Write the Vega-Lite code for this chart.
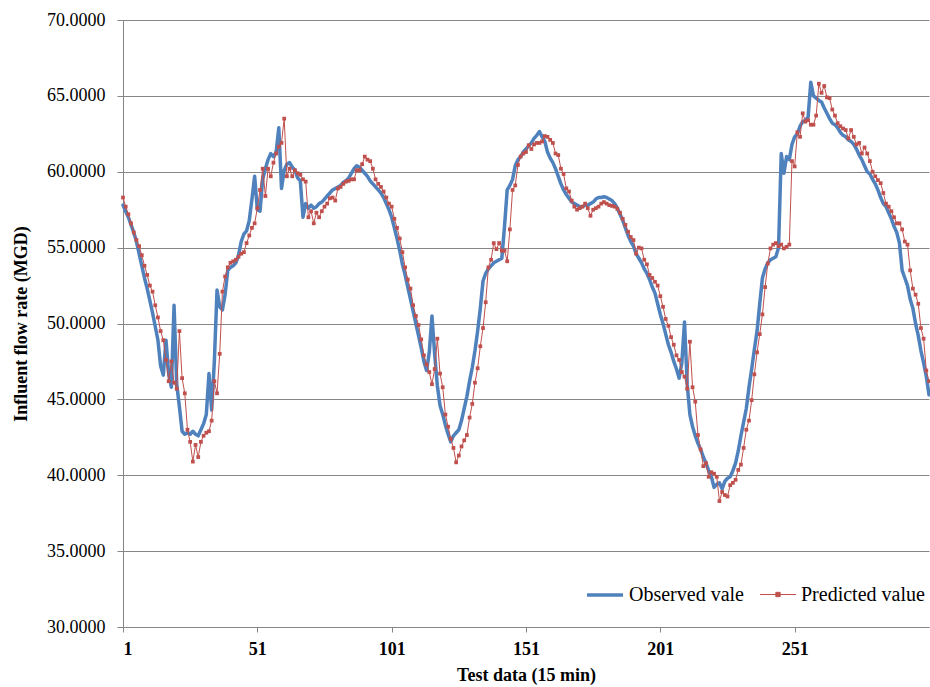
{
 "$schema": "https://vega.github.io/schema/vega-lite/v6.json",
 "width": 806, "height": 607,
 "autosize": {"type": "none"},
 "padding": {"left": 123, "top": 20, "right": 1, "bottom": 60},
 "background": "white",
 "config": {"view": {"stroke": null}, "font": "Liberation Serif"},
 "data": {"values": [
{"i":1,"o":57.8,"p":58.3},{"i":2,"o":57.4,"p":57.7},{"i":3,"o":57.0,"p":57.2},{"i":4,"o":56.5,"p":56.6},{"i":5,"o":56.0,"p":56.0},
{"i":6,"o":55.4,"p":55.5},{"i":7,"o":54.6,"p":55.1},{"i":8,"o":53.8,"p":54.5},{"i":9,"o":53.0,"p":53.8},{"i":10,"o":52.3,"p":53.2},
{"i":11,"o":51.5,"p":52.5},{"i":12,"o":50.7,"p":52.1},{"i":13,"o":49.8,"p":51.2},{"i":14,"o":48.9,"p":50.4},{"i":15,"o":47.2,"p":49.5},
{"i":16,"o":46.6,"p":48.9},{"i":17,"o":48.9,"p":47.6},{"i":18,"o":46.7,"p":46.2},{"i":19,"o":45.8,"p":47.5},{"i":20,"o":51.2,"p":46.1},
{"i":21,"o":46.0,"p":45.7},{"i":22,"o":44.5,"p":49.5},{"i":23,"o":42.9,"p":46.4},{"i":24,"o":42.7,"p":45.4},{"i":25,"o":42.8,"p":43.0},
{"i":26,"o":42.7,"p":42.2},{"i":27,"o":42.9,"p":40.9},{"i":28,"o":42.7,"p":42.0},{"i":29,"o":42.6,"p":41.2},{"i":30,"o":43.0,"p":42.2},
{"i":31,"o":43.4,"p":42.6},{"i":32,"o":44.0,"p":42.8},{"i":33,"o":46.7,"p":42.9},{"i":34,"o":44.3,"p":43.6},{"i":35,"o":47.5,"p":46.2},
{"i":36,"o":52.2,"p":45.4},{"i":37,"o":51.1,"p":48.0},{"i":38,"o":50.9,"p":52.1},{"i":39,"o":51.9,"p":53.1},{"i":40,"o":53.5,"p":53.7},
{"i":41,"o":53.7,"p":54.0},{"i":42,"o":53.8,"p":54.1},{"i":43,"o":54.0,"p":54.2},{"i":44,"o":54.5,"p":54.4},{"i":45,"o":55.4,"p":54.6},
{"i":46,"o":55.9,"p":54.7},{"i":47,"o":56.1,"p":55.3},{"i":48,"o":56.8,"p":55.8},{"i":49,"o":58.2,"p":56.3},{"i":50,"o":59.7,"p":56.6},
{"i":51,"o":57.5,"p":57.6},{"i":52,"o":57.4,"p":58.8},{"i":53,"o":59.5,"p":60.2},{"i":54,"o":60.2,"p":58.4},{"i":55,"o":60.8,"p":60.2},
{"i":56,"o":61.2,"p":59.7},{"i":57,"o":61.0,"p":60.6},{"i":58,"o":61.3,"p":61.2},{"i":59,"o":62.9,"p":61.65},{"i":60,"o":58.9,"p":61.9},
{"i":61,"o":60.1,"p":63.5},{"i":62,"o":60.5,"p":59.7},{"i":63,"o":60.6,"p":60.2},{"i":64,"o":60.3,"p":59.7},{"i":65,"o":60.1,"p":60.1},
{"i":66,"o":59.6,"p":59.9},{"i":67,"o":59.4,"p":59.8},{"i":68,"o":57.0,"p":59.5},{"i":69,"o":57.9,"p":59.35},{"i":70,"o":57.6,"p":57.0},
{"i":71,"o":57.8,"p":57.4},{"i":72,"o":57.6,"p":56.6},{"i":73,"o":57.7,"p":57.3},{"i":74,"o":57.9,"p":57.0},{"i":75,"o":58.0,"p":57.4},
{"i":76,"o":58.2,"p":57.7},{"i":77,"o":58.4,"p":57.9},{"i":78,"o":58.6,"p":58.25},{"i":79,"o":58.8,"p":58.3},{"i":80,"o":58.9,"p":58.1},
{"i":81,"o":59.0,"p":58.9},{"i":82,"o":59.1,"p":59.0},{"i":83,"o":59.3,"p":59.2},{"i":84,"o":59.4,"p":59.35},{"i":85,"o":59.6,"p":59.4},
{"i":86,"o":59.9,"p":59.5},{"i":87,"o":60.2,"p":59.5},{"i":88,"o":60.4,"p":60.1},{"i":89,"o":60.3,"p":60.1},{"i":90,"o":60.1,"p":60.5},
{"i":91,"o":59.9,"p":61.0},{"i":92,"o":59.7,"p":60.8},{"i":93,"o":59.4,"p":60.7},{"i":94,"o":59.2,"p":60.2},{"i":95,"o":59.0,"p":59.5},
{"i":96,"o":58.8,"p":59.2},{"i":97,"o":58.6,"p":59.0},{"i":98,"o":58.3,"p":58.7},{"i":99,"o":57.9,"p":58.3},{"i":100,"o":57.5,"p":57.9},
{"i":101,"o":57.0,"p":57.7},{"i":102,"o":56.3,"p":56.9},{"i":103,"o":55.6,"p":56.3},{"i":104,"o":54.8,"p":55.6},{"i":105,"o":53.9,"p":54.7},
{"i":106,"o":53.2,"p":53.7},{"i":107,"o":52.4,"p":52.9},{"i":108,"o":51.6,"p":52.3},{"i":109,"o":50.8,"p":51.2},{"i":110,"o":50.0,"p":50.5},
{"i":111,"o":49.2,"p":49.9},{"i":112,"o":48.4,"p":48.95},{"i":113,"o":47.5,"p":47.9},{"i":114,"o":46.9,"p":47.3},{"i":115,"o":48.1,"p":46.8},
{"i":116,"o":50.5,"p":46.0},{"i":117,"o":48.0,"p":47.0},{"i":118,"o":45.9,"p":49.0},{"i":119,"o":44.6,"p":46.7},{"i":120,"o":44.0,"p":45.8},
{"i":121,"o":43.3,"p":44.0},{"i":122,"o":42.7,"p":43.2},{"i":123,"o":42.2,"p":42.4},{"i":124,"o":42.6,"p":41.8},{"i":125,"o":42.8,"p":40.85},
{"i":126,"o":43.0,"p":41.3},{"i":127,"o":43.6,"p":41.9},{"i":128,"o":44.4,"p":42.3},{"i":129,"o":45.2,"p":42.65},{"i":130,"o":46.2,"p":43.8},
{"i":131,"o":47.1,"p":44.7},{"i":132,"o":48.2,"p":46.1},{"i":133,"o":49.5,"p":47.05},{"i":134,"o":51.0,"p":48.5},{"i":135,"o":52.8,"p":49.7},
{"i":136,"o":53.3,"p":51.4},{"i":137,"o":53.6,"p":53.7},{"i":138,"o":53.8,"p":54.2},{"i":139,"o":54.0,"p":55.3},{"i":140,"o":54.1,"p":54.9},
{"i":141,"o":54.2,"p":55.3},{"i":142,"o":54.3,"p":54.8},{"i":143,"o":56.4,"p":54.8},{"i":144,"o":58.8,"p":54.1},{"i":145,"o":59.1,"p":56.2},
{"i":146,"o":59.5,"p":58.8},{"i":147,"o":60.4,"p":59.1},{"i":148,"o":60.8,"p":60.45},{"i":149,"o":61.0,"p":61.0},{"i":150,"o":61.3,"p":61.2},
{"i":151,"o":61.5,"p":61.3},{"i":152,"o":61.7,"p":61.75},{"i":153,"o":61.9,"p":61.5},{"i":154,"o":62.2,"p":61.8},{"i":155,"o":62.4,"p":61.9},
{"i":156,"o":62.65,"p":61.9},{"i":157,"o":62.3,"p":62.0},{"i":158,"o":62.0,"p":62.35},{"i":159,"o":61.3,"p":62.3},{"i":160,"o":60.9,"p":62.1},
{"i":161,"o":60.6,"p":61.9},{"i":162,"o":60.2,"p":61.2},{"i":163,"o":59.7,"p":61.1},{"i":164,"o":59.2,"p":60.2},{"i":165,"o":58.8,"p":59.85},
{"i":166,"o":58.5,"p":58.9},{"i":167,"o":58.25,"p":58.7},{"i":168,"o":58.0,"p":58.1},{"i":169,"o":57.9,"p":57.7},{"i":170,"o":57.8,"p":57.5},
{"i":171,"o":57.7,"p":57.6},{"i":172,"o":57.7,"p":57.7},{"i":173,"o":57.8,"p":57.9},{"i":174,"o":57.8,"p":57.6},{"i":175,"o":57.9,"p":57.1},
{"i":176,"o":58.0,"p":57.5},{"i":177,"o":58.2,"p":57.6},{"i":178,"o":58.3,"p":57.7},{"i":179,"o":58.3,"p":57.9},{"i":180,"o":58.35,"p":58.0},
{"i":181,"o":58.3,"p":57.9},{"i":182,"o":58.2,"p":57.8},{"i":183,"o":58.1,"p":57.75},{"i":184,"o":57.9,"p":57.7},{"i":185,"o":57.6,"p":57.55},
{"i":186,"o":57.2,"p":57.3},{"i":187,"o":56.8,"p":56.9},{"i":188,"o":56.3,"p":56.5},{"i":189,"o":55.8,"p":56.05},{"i":190,"o":55.4,"p":55.7},
{"i":191,"o":55.1,"p":55.5},{"i":192,"o":54.6,"p":54.6},{"i":193,"o":54.3,"p":55.0},{"i":194,"o":54.0,"p":54.95},{"i":195,"o":53.6,"p":54.2},
{"i":196,"o":53.3,"p":53.9},{"i":197,"o":52.9,"p":53.2},{"i":198,"o":52.4,"p":53.0},{"i":199,"o":52.0,"p":52.75},{"i":200,"o":51.3,"p":52.5},
{"i":201,"o":50.6,"p":51.8},{"i":202,"o":50.0,"p":51.1},{"i":203,"o":49.3,"p":50.3},{"i":204,"o":48.6,"p":49.85},{"i":205,"o":48.1,"p":49.1},
{"i":206,"o":47.5,"p":48.6},{"i":207,"o":47.0,"p":47.9},{"i":208,"o":46.4,"p":47.6},{"i":209,"o":47.4,"p":46.8},{"i":210,"o":50.1,"p":46.5},
{"i":211,"o":46.0,"p":45.7},{"i":212,"o":44.0,"p":48.8},{"i":213,"o":43.2,"p":45.8},{"i":214,"o":42.6,"p":44.85},{"i":215,"o":42.1,"p":42.65},
{"i":216,"o":41.7,"p":41.7},{"i":217,"o":41.2,"p":40.6},{"i":218,"o":40.8,"p":40.8},{"i":219,"o":40.3,"p":39.9},{"i":220,"o":39.9,"p":40.2},
{"i":221,"o":39.2,"p":40.1},{"i":222,"o":39.4,"p":39.9},{"i":223,"o":39.5,"p":38.3},{"i":224,"o":39.1,"p":38.9},{"i":225,"o":39.6,"p":38.7},
{"i":226,"o":39.8,"p":38.6},{"i":227,"o":39.9,"p":39.35},{"i":228,"o":40.3,"p":39.5},{"i":229,"o":40.8,"p":39.7},{"i":230,"o":41.6,"p":40.35},
{"i":231,"o":42.6,"p":40.7},{"i":232,"o":43.5,"p":41.8},{"i":233,"o":44.4,"p":43.0},{"i":234,"o":45.8,"p":43.6},{"i":235,"o":47.0,"p":44.95},
{"i":236,"o":48.3,"p":46.65},{"i":237,"o":49.5,"p":48.1},{"i":238,"o":51.3,"p":49.3},{"i":239,"o":53.0,"p":50.6},{"i":240,"o":53.6,"p":52.4},
{"i":241,"o":54.0,"p":53.95},{"i":242,"o":54.2,"p":54.95},{"i":243,"o":54.3,"p":55.2},{"i":244,"o":54.4,"p":55.3},{"i":245,"o":55.0,"p":55.1},
{"i":246,"o":61.2,"p":55.2},{"i":247,"o":59.9,"p":54.95},{"i":248,"o":61.0,"p":55.05},{"i":249,"o":60.8,"p":55.2},{"i":250,"o":61.8,"p":60.7},
{"i":251,"o":62.3,"p":60.35},{"i":252,"o":62.5,"p":62.6},{"i":253,"o":63.0,"p":62.3},{"i":254,"o":63.3,"p":63.85},{"i":255,"o":63.4,"p":63.3},
{"i":256,"o":63.6,"p":63.4},{"i":257,"o":65.9,"p":63.1},{"i":258,"o":65.0,"p":63.1},{"i":259,"o":64.85,"p":63.7},{"i":260,"o":64.7,"p":65.8},
{"i":261,"o":64.6,"p":65.2},{"i":262,"o":64.2,"p":65.65},{"i":263,"o":63.85,"p":64.9},{"i":264,"o":63.5,"p":64.85},{"i":265,"o":63.2,"p":64.1},
{"i":266,"o":63.1,"p":63.7},{"i":267,"o":62.9,"p":63.2},{"i":268,"o":62.6,"p":63.0},{"i":269,"o":62.4,"p":62.85},{"i":270,"o":62.3,"p":62.75},
{"i":271,"o":62.1,"p":62.2},{"i":272,"o":62.0,"p":62.75},{"i":273,"o":61.8,"p":62.3},{"i":274,"o":61.5,"p":61.8},{"i":275,"o":61.1,"p":61.9},
{"i":276,"o":60.8,"p":61.2},{"i":277,"o":60.4,"p":61.6},{"i":278,"o":60.0,"p":61.2},{"i":279,"o":59.85,"p":60.7},{"i":280,"o":59.5,"p":60.0},
{"i":281,"o":59.2,"p":59.7},{"i":282,"o":58.8,"p":59.45},{"i":283,"o":58.3,"p":59.25},{"i":284,"o":57.9,"p":58.6},{"i":285,"o":57.7,"p":57.9},
{"i":286,"o":57.3,"p":57.7},{"i":287,"o":56.9,"p":57.4},{"i":288,"o":56.4,"p":57.0},{"i":289,"o":56.0,"p":56.6},{"i":290,"o":55.3,"p":56.6},
{"i":291,"o":53.5,"p":56.2},{"i":292,"o":53.0,"p":55.4},{"i":293,"o":52.5,"p":55.2},{"i":294,"o":51.6,"p":53.5},{"i":295,"o":51.0,"p":52.3},
{"i":296,"o":50.0,"p":51.9},{"i":297,"o":49.2,"p":51.3},{"i":298,"o":48.2,"p":49.7},{"i":299,"o":47.4,"p":49.0},{"i":300,"o":46.5,"p":46.9},
{"i":301,"o":45.3,"p":46.2}
 ]},
 "transform": [{"fold": ["o", "p"], "as": ["s", "v"]}],
 "encoding": {
  "x": {"field": "i", "type": "quantitative",
   "scale": {"domain": [1, 301], "nice": false, "zero": false},
   "axis": {"values": [1, 51, 101, 151, 201, 251], "grid": false, "domainColor": "#868686", "tickColor": "#868686", "tickSize": 5,
    "labelFont": "Liberation Serif", "labelFontSize": 18, "labelFontWeight": "bold", "labelColor": "#000", "labelPadding": 8,
    "title": "Test data (15 min)", "titleFont": "Liberation Serif", "titleFontSize": 18, "titleFontWeight": "bold", "titleColor": "#000", "titlePadding": 8}},
  "y": {"field": "v", "type": "quantitative",
   "scale": {"domain": [30, 70], "nice": false, "zero": false},
   "axis": {"values": [30, 35, 40, 45, 50, 55, 60, 65, 70], "format": ".4f", "grid": true, "gridColor": "#868686", "gridWidth": 1,
    "domainColor": "#868686", "tickColor": "#868686", "tickSize": 6, "labelPadding": 12,
    "labelFont": "Liberation Serif", "labelFontSize": 18, "labelColor": "#000",
    "title": "Influent flow rate (MGD)", "titleFont": "Liberation Serif", "titleFontSize": 18, "titleFontWeight": "bold", "titleColor": "#000", "titlePadding": 16}}
 },
 "layer": [
  {"mark": {"type": "line", "strokeJoin": "round", "strokeCap": "round"},
   "encoding": {
    "color": {"field": "s", "type": "nominal", "scale": {"domain": ["o", "p"], "range": ["#4F81BD", "#C0504D"]},
     "legend": {"orient": "none", "legendX": 462, "legendY": 555, "direction": "horizontal", "title": null,
      "labelExpr": "datum.value == 'o' ? 'Observed vale' : 'Predicted value'", "symbolType": "stroke", "symbolSize": 1300,
      "labelFont": "Liberation Serif", "labelFontSize": 20, "labelColor": "#000", "labelOffset": 4, "columnPadding": 13,
      "encode": {"symbols": {"update": {
        "shape": {"signal": "datum.value == 'o' ? 'stroke' : 'M-1,0L1,0M-0.12,-0.12H0.12V0.12H-0.12Z'"},
        "fill": {"signal": "datum.value == 'o' ? 'transparent' : '#C0504D'"}}}}}},
    "strokeWidth": {"field": "s", "type": "nominal", "scale": {"domain": ["o", "p"], "range": [3.5, 1]},
     "legend": {"orient": "none", "legendX": 462, "legendY": 555, "direction": "horizontal", "title": null,
      "labelExpr": "datum.value == 'o' ? 'Observed vale' : 'Predicted value'", "symbolType": "stroke", "symbolSize": 1300,
      "labelFont": "Liberation Serif", "labelFontSize": 20, "labelColor": "#000", "labelOffset": 4, "columnPadding": 13,
      "encode": {"symbols": {"update": {
        "shape": {"signal": "datum.value == 'o' ? 'stroke' : 'M-1,0L1,0M-0.12,-0.12H0.12V0.12H-0.12Z'"},
        "fill": {"signal": "datum.value == 'o' ? 'transparent' : '#C0504D'"}}}}}}
   }},
  {"transform": [{"filter": "datum.s == 'p'"}],
   "mark": {"type": "square", "size": 14, "color": "#C0504D", "opacity": 1}}
 ]
}
